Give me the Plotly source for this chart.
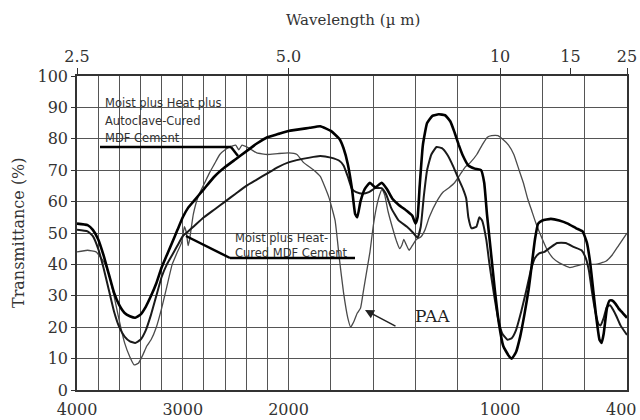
import plotly.graph_objects as go

# ---------------- data (wavenumber cm-1, transmittance %) ----------------
autoclave_wn = [4000, 3900, 3850, 3800, 3750, 3700, 3650, 3600, 3550, 3500, 3450, 3400, 3350, 3300,
                3250, 3200, 3150, 3100, 3050, 3000, 2950, 2900, 2800, 2700, 2600, 2500, 2400, 2300,
                2200, 2100, 2000, 1900, 1850, 1800, 1760, 1740, 1720, 1700, 1685, 1675, 1660, 1640,
                1615, 1590, 1560, 1535, 1510, 1480, 1440, 1415, 1400, 1390, 1380, 1365, 1345, 1320,
                1290, 1260, 1235, 1215, 1195, 1175, 1150, 1120, 1090, 1075, 1062, 1045, 1025, 1005,
                985, 960, 945, 925, 905, 885, 865, 850, 835, 820, 800, 760, 720, 680, 640, 610, 590,
                575, 560, 545, 530, 520, 510, 495, 482, 470, 455, 440, 420, 400]
autoclave_t = [53, 52.5, 51, 48, 43, 37, 31, 27, 24.5, 23.5, 23, 24, 26.5, 30,
               34, 39, 43, 47, 51, 55, 58, 60, 64, 68, 71, 73.5, 76, 78.5,
               80.5, 81.5, 82.5, 83.5, 84, 82.5, 80, 77, 72, 64, 56, 55, 60, 64,
               66, 64.5, 66, 64, 61, 59, 57, 55.5, 53, 55, 65, 78, 85, 87.3,
               87.8, 87.5, 85.5, 82, 78, 74.5, 71.5, 70.5, 70, 66, 56, 45, 32, 21,
               14, 11, 10, 12, 17, 24, 32, 40, 48, 53, 54, 54.5, 54, 53, 51.5, 50.5, 47,
               41, 32, 23, 16, 15, 18, 26, 28.5, 28.5, 27.5, 26, 24.5, 23]

heat_wn = [4000, 3900, 3850, 3800, 3750, 3700, 3650, 3600, 3550, 3500, 3450, 3400, 3350, 3300,
           3250, 3200, 3150, 3100, 3050, 3000, 2950, 2900, 2800, 2700, 2600, 2500, 2400, 2300,
           2200, 2100, 2000, 1900, 1850, 1800, 1760, 1740, 1720, 1700, 1680, 1650, 1620, 1590,
           1560, 1540, 1515, 1480, 1440, 1410, 1390, 1375, 1360, 1345, 1325, 1300, 1275, 1250,
           1220, 1195, 1175, 1160, 1150, 1135, 1112, 1098, 1085, 1065, 1050, 1030, 1010, 990,
           965, 945, 925, 900, 875, 855, 835, 815, 790, 760, 730, 690, 650, 615, 595, 580,
           565, 550, 535, 525, 510, 495, 480, 465, 450, 430, 400]
heat_t = [51, 50.5, 49, 45, 39, 32, 25, 20, 17, 15.5, 15, 16, 19, 24,
          30, 36, 40, 43, 46, 49, 50.5, 52, 55, 57.5, 60, 62.5, 65, 67,
          69, 71, 72.5, 74, 74.5, 74, 73, 71.5, 68, 64, 63, 62.5, 63, 64.3,
          64.3, 62.5, 58, 54, 52, 50, 48.5, 52, 62, 70, 75, 77.4, 77, 75,
          71, 67, 64, 61, 55, 51.5, 52, 55, 54, 47.8, 40, 31, 23, 18,
          16, 16.5, 19, 25, 32, 38, 42, 43.5, 44, 45.5, 46.8, 46.8, 45.5, 44.5, 42, 38,
          31, 25, 21, 20.5, 23, 26.5, 27, 25.5, 23.5, 20.5, 17.5]

paa_wn = [4000, 3900, 3820, 3750, 3700, 3650, 3600, 3550, 3500, 3460, 3420, 3380, 3340, 3300,
          3250, 3200, 3150, 3100, 3050, 3010, 2985, 2965, 2950, 2935, 2900, 2850, 2800, 2750,
          2700, 2650, 2600, 2550, 2500, 2470, 2440, 2400, 2350, 2300, 2200, 2100, 2000, 1960,
          1930, 1880, 1850, 1810, 1780, 1760, 1740, 1720, 1706, 1690, 1675, 1660, 1645, 1630,
          1615, 1600, 1585, 1570, 1558, 1545, 1530, 1510, 1490, 1475, 1465, 1455, 1445, 1430,
          1415, 1395, 1375, 1355, 1335, 1300, 1270, 1240, 1215, 1190, 1165, 1140, 1110, 1085,
          1060, 1040, 1010, 990, 960, 935, 910, 890, 870, 850, 830, 800, 780, 750, 720, 670,
          610, 550, 500, 470, 440, 400]
paa_t = [44, 44.5, 44, 41, 37, 30, 22, 15, 10.5, 8, 8.5, 11, 14, 16,
         20, 26, 33, 40, 44, 47, 52, 50, 46, 48, 56, 62, 65.5, 69,
         72, 75, 76.5, 77.5, 78, 76.5, 78, 77.5, 76.5, 75.5, 75, 75.3, 75.5, 75,
         72.5, 70, 68, 61.5, 54, 42, 31, 23, 20, 22, 24.5, 26, 32, 38,
         44, 52, 58, 62, 64, 62, 57, 52, 47.5, 45, 46, 48, 46.5, 44.5,
         46, 48, 48.7, 51, 55, 60, 63, 64.5, 66, 68.5, 71, 72.5, 75, 78,
         80.5, 81, 81, 80, 78, 75, 70, 66, 61, 57, 53, 48, 45, 42, 40.5, 39,
         40, 40, 41, 43, 46, 50]

grid_wn = [4000, 3800, 3600, 3400, 3200, 3000, 2800, 2600, 2400, 2200, 2000,
           1800, 1600, 1400, 1200, 1000, 800, 600, 400]
bottom_tick_wn = [4000, 3000, 2000, 1000]   # 400 is written flush with the right edge
edge_tick_label = "400"
top_tick_wn = [4000, 2000, 1000, 667, 400]
top_tick_labels = ["2.5", "5.0", "10", "15", "25"]
y_ticks = [0, 10, 20, 30, 40, 50, 60, 70, 80, 90, 100]


# IR charts use a doubled scale below 2000 cm-1
def pos(wn):
    return (4000 - wn) / 2000 if wn >= 2000 else 1 + (2000 - wn) / 1000


def px(x):  # pixel -> paper
    return (x - 77) / 550


def py(y):
    return (390 - y) / 314


fig = go.Figure()
fig.add_trace(go.Scatter(x=[pos(w) for w in paa_wn], y=paa_t, mode="lines",
                         line=dict(color="#4a4a4a", width=1.3, shape="spline", smoothing=0.4),
                         name="PAA", showlegend=False))
fig.add_trace(go.Scatter(x=[pos(w) for w in heat_wn], y=heat_t, mode="lines",
                         line=dict(color="#1a1a1a", width=2.0, shape="spline", smoothing=0.4),
                         name="Moist plus Heat-Cured MDF Cement", showlegend=False))
fig.add_trace(go.Scatter(x=[pos(w) for w in autoclave_wn], y=autoclave_t, mode="lines",
                         line=dict(color="#000000", width=2.6, shape="spline", smoothing=0.4),
                         name="Moist plus Heat plus Autoclave-Cured MDF Cement", showlegend=False))
# invisible carrier so the top wavelength axis is drawn
fig.add_trace(go.Scatter(x=[pos(w) for w in top_tick_wn], y=[100] * len(top_tick_wn),
                         xaxis="x2", mode="markers", marker=dict(opacity=0),
                         hoverinfo="skip", showlegend=False))

serif = "DejaVu Serif"
tick_font = dict(family=serif, size=16, color="#333")

fig.update_layout(
    width=640, height=420,
    margin=dict(l=77, r=13, t=76, b=30),
    paper_bgcolor="white", plot_bgcolor="white",
    showlegend=False,
    xaxis=dict(range=[0, pos(400)], tickvals=[pos(w) for w in grid_wn],
               ticktext=[str(w) if w in bottom_tick_wn else "" for w in grid_wn],
               showgrid=True, gridcolor="#555", gridwidth=1,
               showline=True, linecolor="#333", linewidth=1.5, mirror=False,
               ticks="", ticklabelstandoff=4, ticklabeloverflow="allow",
               tickfont=tick_font, zeroline=False, automargin=False),
    xaxis2=dict(range=[0, pos(400)], overlaying="x", side="top",
                tickvals=[pos(w) for w in top_tick_wn], ticktext=top_tick_labels,
                showgrid=False, showline=True, linecolor="#333", linewidth=1.5,
                ticks="outside", ticklen=6, tickcolor="#333", tickfont=tick_font,
                ticklabeloverflow="allow", zeroline=False, automargin=False),
    yaxis=dict(range=[0, 100], tickvals=y_ticks, showgrid=True, gridcolor="#555", gridwidth=1,
               showline=True, linecolor="#333", linewidth=1.5, mirror=True,
               ticks="outside", ticklen=4, tickcolor="#333", tickfont=tick_font,
               zeroline=False, automargin=False),
)

fig.add_annotation(text=edge_tick_label, xref="paper", yref="paper", x=px(639), y=py(409),
                   showarrow=False, font=tick_font, xanchor="right", yanchor="middle")

# axis titles
fig.add_annotation(text="Wavelength (\u00b5 m)", xref="paper", yref="paper", x=px(353), y=py(20),
                   showarrow=False, font=dict(family=serif, size=15, color="#333"),
                   xanchor="center", yanchor="middle")
fig.add_annotation(text="Transmittance (%)", xref="paper", yref="paper", x=px(18), y=py(233),
                   showarrow=False, textangle=-90, font=dict(family=serif, size=16, color="#333"),
                   xanchor="center", yanchor="middle")

lab_font = dict(family="DejaVu Sans", size=11.5, color="#333")
for txt, yy in [("Moist plus Heat plus", 103), ("Autoclave-Cured", 121), ("MDF Cement", 138)]:
    fig.add_annotation(text=txt, xref="paper", yref="paper", x=px(103), y=py(yy),
                       showarrow=False, font=lab_font, xanchor="left", yanchor="middle")
for txt, yy in [("Moist plus Heat-", 238), ("Cured MDF Cement", 253)]:
    fig.add_annotation(text=txt, xref="paper", yref="paper", x=px(233), y=py(yy),
                       showarrow=False, font=lab_font, xanchor="left", yanchor="middle")
fig.add_annotation(text="PAA", xref="paper", yref="paper", x=px(413), y=py(316),
                   showarrow=False, font=dict(family=serif, size=17, color="#222"),
                   xanchor="left", yanchor="middle")
fig.add_annotation(text="", xref="paper", yref="paper", x=px(365), y=py(310),
                   ax=32, ay=17, showarrow=True, arrowhead=2, arrowsize=1.2,
                   arrowwidth=1.5, arrowcolor="#222")

line_style = dict(color="#000", width=2.5)
for (x0, y0, x1, y1) in [(100, 147, 231, 147), (231, 147, 238, 156),
                         (186, 236, 230, 258), (230, 258, 355, 258)]:
    fig.add_shape(type="line", xref="paper", yref="paper", x0=px(x0), y0=py(y0),
                  x1=px(x1), y1=py(y1), line=line_style)

fig.write_html("out.html", config={"displayModeBar": False},
               post_script="document.body.style.margin='0';document.body.style.overflow='hidden';")
